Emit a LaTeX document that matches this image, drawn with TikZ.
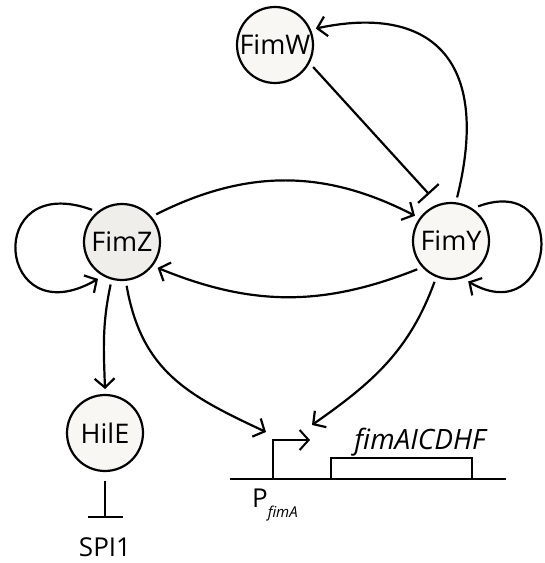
\documentclass[tikz,border=0pt]{standalone}
\usepackage{fontspec}
\setmainfont{Open Sans}
\usepackage{tikz}
\usetikzlibrary{arrows.meta,calc}
\definecolor{protfill}{RGB}{248,247,244}
\definecolor{fimzfill}{RGB}{239,238,235}

\begin{document}
\begin{tikzpicture}[
    x=1pt, y=1pt,
    line width=2.2pt,
    prot/.style={circle, draw, fill=protfill, minimum size=76pt, inner sep=0pt, outer sep=6pt, font=\fontsize{27}{30}\selectfont},
    act/.style={-{Straight Barb[length=9pt,width=20pt]}},
    inhib/.style={-{Bar[width=28pt]}},
    lbl/.style={font=\fontsize{26}{28}\selectfont, inner sep=0pt}
]
\useasboundingbox (0,0) rectangle (545,563);

% --- proteins ---
\node[prot] (fimw) at (275,518) {FimW};
\node[prot, fill=fimzfill] (fimz) at (122,321) {FimZ};
\node[prot] (fimy) at (451,322) {FimY};
\node[prot] (hile) at (105,130) {HilE};
\node[lbl, anchor=north] (spi) at (105,26) {SPI1};

% --- fim operon ---
\coordinate (dnaL) at (230,84);
\coordinate (dnaR) at (506,84);
\draw[line width=2pt] (dnaL) -- (dnaR);
\node[draw, line width=2pt, anchor=south west, minimum width=141pt, minimum height=21pt,
      inner sep=0pt, outer sep=0pt] (gene) at (331,84) {};
\node[font=\fontsize{28}{30}\selectfont\itshape, anchor=base] (genelbl) at (420,113) {fimAICDHF};
\coordinate (prom) at (273,84);
\coordinate (tss) at (310,123);
\draw[act, line width=2pt] (prom) |- (tss);
\node[lbl, anchor=base west] (pfima) at (251,55) {P\raisebox{-10pt}{\fontsize{15}{16}\selectfont\itshape fimA}};
\coordinate (tipz) at (266,131);
\coordinate (tipy) at (312,138);

% --- regulation ---
\draw[act] (fimz.39) to[bend left=27] (fimy.145);
\draw[act] (fimy.220) to[bend left=22] (fimz.-36);
\draw[act] (fimz.133) .. controls +(160:117) and +(210:117) .. (fimz.237);
\draw[act] (fimy.52) .. controls +(20:100) and +(-30:100) .. (fimy.-67);
\draw[act] (fimy.82) .. controls +(76:145) and +(12:115) .. (fimw.22);
\draw[inhib, shorten >=8pt] (fimw.-30) -- (fimy.112);
\draw[act] (fimz.255) to[out=258, in=92] (hile.north);
\draw[-{Bar[width=35pt]}, shorten <=4pt, shorten >=19pt] (hile.south) -- (spi.north);
\draw[act] (fimz.-84) to[out=-80, in=155, looseness=1.1] (tipz);
\draw[act] (fimy.248) to[out=250, in=35] (tipy);

\end{tikzpicture}
\end{document}
